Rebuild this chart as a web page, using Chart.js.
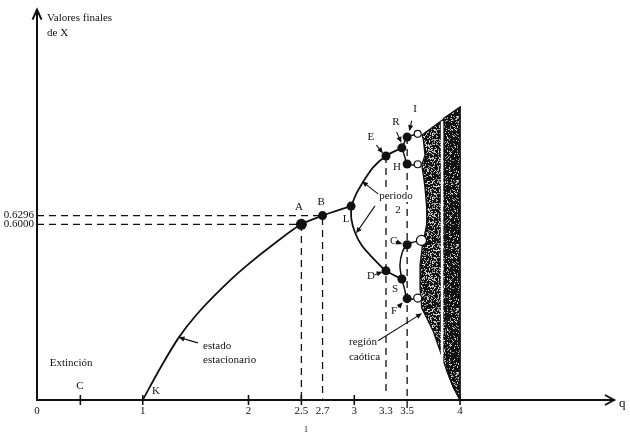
<!DOCTYPE html>
<html><head><meta charset="utf-8">
<script src="https://cdn.jsdelivr.net/npm/chart.js@4.4.1/dist/chart.umd.min.js"></script>
<style>html,body{margin:0;padding:0;background:#fff;}canvas{display:block;}</style>
</head><body>
<canvas id="c" width="630" height="435"></canvas>
<script>
// ---------- data ----------
const qTickValues = [0, 1, 2, 2.5, 2.7, 3, 3.3, 3.5, 4];
const qTickLabels = ['0', '1', '2', '2.5', '2.7', '3', '3.3', '3.5', '4'];
const xTickValues = [0.6, 0.6296];
const xTickLabels = ['0.6000', '0.6296'];

// steady state branch K -> A -> B -> L
const steadyQ = [1, 1.17, 1.34, 1.51, 1.83, 1.98, 2.23, 2.5, 2.7, 2.97];
const steadyX = [0, 0.112, 0.213, 0.292, 0.41, 0.458, 0.53, 0.6, 0.6296, 0.662];

// period 2 branches
const upper2Q = [2.97, 3.023, 3.086, 3.18, 3.3, 3.45];
const upper2X = [0.662, 0.707, 0.746, 0.795, 0.833, 0.861];
const lower2Q = [2.97, 2.973, 3.007, 3.07, 3.149, 3.227, 3.3, 3.45];
const lower2X = [0.662, 0.617, 0.572, 0.528, 0.495, 0.466, 0.441, 0.413];

// period 4 branches
const p4aQ = [3.45, 3.48, 3.5, 3.56, 3.6];
const p4aX = [0.861, 0.884, 0.898, 0.905, 0.909];
const p4bQ = [3.45, 3.478, 3.5, 3.56, 3.6];
const p4bX = [0.861, 0.83, 0.806, 0.802, 0.805];
const p4cQ = [3.45, 3.432, 3.455, 3.5, 3.57, 3.63];
const p4cX = [0.413, 0.46, 0.505, 0.53, 0.54, 0.545];
const p4dQ = [3.45, 3.478, 3.5, 3.56, 3.6];
const p4dX = [0.413, 0.375, 0.346, 0.345, 0.348];

// small period-8 loops
const loopQ = [3.6, 3.6, 3.635, 3.6];
const loopX = [0.909, 0.805, 0.545, 0.348];

// chaotic region outline
const chaosQ = [3.64, 4.0, 4.0, 3.934, 3.874, 3.811, 3.745, 3.685, 3.638, 3.622, 3.622, 3.645, 3.685, 3.685, 3.669, 3.653, 3.638, 3.669, 3.653, 3.64];
const chaosX = [0.905, 1.0, 0, 0.045, 0.101, 0.168, 0.236, 0.28, 0.314, 0.381, 0.461, 0.53, 0.6, 0.657, 0.724, 0.769, 0.802, 0.836, 0.89, 0.905];
// darker right-hand band of the chaotic region (right of the periodic window)
const chaosRightQ = [3.845, 4.0, 4.0, 3.934, 3.874, 3.845];
const chaosRightX = [0.962, 1.0, 0, 0.045, 0.101, 0.962];
// periodic window inside chaos
const windowQ = [3.83, 3.83];
const windowX = [0.952, 0.13];

// labelled points
const pointNames = ['A', 'B', 'L', 'E', 'R', 'I', 'H', 'D', 'S', 'G', 'F'];
const pointQ = [2.5, 2.7, 2.97, 3.3, 3.45, 3.5, 3.5, 3.3, 3.45, 3.5, 3.5];
const pointX = [0.6, 0.6296, 0.662, 0.833, 0.861, 0.898, 0.806, 0.441, 0.413, 0.53, 0.346];

// dashed guide lines
const guideA = {q: [0, 2.5, 2.5], x: [0.6, 0.6, 0]};
const guideB = {q: [0, 2.7, 2.7], x: [0.6296, 0.6296, 0.005]};
const guideE = {q: [3.3, 3.3], x: [0.833, 0.03]};
const guideI = {q: [3.5, 3.5], x: [0.898, -0.035]};

const extinctionPointQ = 0.41; // C

// ---------- drawing ----------
const black = '#111';
const serif = "'Liberation Serif', 'DejaVu Serif', serif";
const xy = (qs, xs) => qs.map((q, i) => ({x: q, y: xs[i]}));

function makePattern(lightShare, seed) {
  const N = 64;
  const c = document.createElement('canvas');
  c.width = N; c.height = N;
  const g = c.getContext('2d');
  g.fillStyle = '#121212'; g.fillRect(0, 0, N, N);
  const hash = (i, j) => {
    const v = Math.sin(i * 12.9898 + j * 78.233 + seed) * 43758.5453;
    return v - Math.floor(v);
  };
  for (let i = 0; i < N; i++) {
    for (let j = 0; j < N; j++) {
      const h = hash(i, j);
      if (h < lightShare) {
        const shade = 130 + Math.floor(hash(j + 7, i + 3) * 100);
        g.fillStyle = 'rgb(' + shade + ',' + shade + ',' + shade + ')';
        g.fillRect(i, j, 1, 1);
      }
    }
  }
  return g.createPattern(c, 'repeat');
}

const labels = [
  {t: 'A', q: 2.477, v: 0.660}, {t: 'B', q: 2.686, v: 0.677}, {t: 'L', q: 2.922, v: 0.616},
  {t: 'E', q: 3.158, v: 0.896}, {t: 'R', q: 3.395, v: 0.949}, {t: 'I', q: 3.574, v: 0.993},
  {t: 'H', q: 3.404, v: 0.795}, {t: 'D', q: 3.158, v: 0.424}, {t: 'S', q: 3.385, v: 0.377},
  {t: 'G', q: 3.376, v: 0.542}, {t: 'F', q: 3.376, v: 0.303},
  {t: 'periodo', q: 3.395, v: 0.697, bg: true}, {t: '2', q: 3.414, v: 0.650, bg: true},
  {t: 'C', q: 0.407, v: 0.047}, {t: 'K', q: 1.125, v: 0.030},
  {t: 'Extinción', q: 0.322, v: 0.125},
  {t: 'estado', q: 1.570, v: 0.185, a: 'left'}, {t: 'estacionario', q: 1.570, v: 0.135, a: 'left'},
  {t: 'región', q: 2.950, v: 0.199, a: 'left'}, {t: 'caótica', q: 2.950, v: 0.145, a: 'left'},
  {t: 'Valores finales', q: 0.095, v: 1.303, a: 'left'}, {t: 'de X', q: 0.095, v: 1.253, a: 'left'},
  {t: 'q', q: 5.535, v: -0.013, s: 13}, {t: '1', q: 2.544, v: -0.101, s: 8}
];
const arrows = [
  [3.210, 0.870, 3.272, 0.842], [3.401, 0.915, 3.445, 0.878], [3.543, 0.954, 3.522, 0.918],
  [3.196, 0.428, 3.268, 0.438], [3.414, 0.538, 3.455, 0.533], [3.414, 0.316, 3.458, 0.334],
  [3.225, 0.704, 3.073, 0.747], [3.196, 0.663, 3.017, 0.569],
  [1.522, 0.195, 1.338, 0.214], [3.225, 0.202, 3.641, 0.296]
];
const tickMarks = [extinctionPointQ, 1, 2, 2.5, 3, 4];

const annot = {
  id: 'annot',
  afterDatasetsDraw(chart) {
    const {ctx, scales: {x, y}, chartArea: ca} = chart;
    ctx.save();
    ctx.strokeStyle = black; ctx.fillStyle = black;
    // tick marks on q axis
    ctx.lineWidth = 1.6;
    tickMarks.forEach(q => {
      const px = x.getPixelForValue(q), py = y.getPixelForValue(0);
      ctx.beginPath(); ctx.moveTo(px, py - 5); ctx.lineTo(px, py + 5); ctx.stroke();
    });
    // axis arrowheads
    ctx.lineWidth = 2;
    const ox = x.getPixelForValue(0), oy = y.getPixelForValue(0);
    ctx.beginPath();
    ctx.moveTo(ox - 4.5, ca.top + 10); ctx.lineTo(ox, ca.top); ctx.lineTo(ox + 4.5, ca.top + 10);
    ctx.stroke();
    ctx.beginPath();
    ctx.moveTo(ca.right - 9, oy - 5); ctx.lineTo(ca.right, oy); ctx.lineTo(ca.right - 9, oy + 5);
    ctx.stroke();
    // arrows
    ctx.lineWidth = 1.1;
    arrows.forEach(([q1, v1, q2, v2]) => {
      const x1 = x.getPixelForValue(q1), y1 = y.getPixelForValue(v1);
      const x2 = x.getPixelForValue(q2), y2 = y.getPixelForValue(v2);
      const ang = Math.atan2(y2 - y1, x2 - x1);
      ctx.beginPath(); ctx.moveTo(x1, y1); ctx.lineTo(x2 - 3 * Math.cos(ang), y2 - 3 * Math.sin(ang)); ctx.stroke();
      ctx.beginPath();
      ctx.moveTo(x2, y2);
      ctx.lineTo(x2 - 6 * Math.cos(ang) + 2.6 * Math.sin(ang), y2 - 6 * Math.sin(ang) - 2.6 * Math.cos(ang));
      ctx.lineTo(x2 - 6 * Math.cos(ang) - 2.6 * Math.sin(ang), y2 - 6 * Math.sin(ang) + 2.6 * Math.cos(ang));
      ctx.closePath(); ctx.fill();
    });
    // texts
    ctx.textBaseline = 'middle';
    labels.forEach(l => {
      ctx.font = (l.s || 11) + 'px ' + serif;
      ctx.textAlign = l.a || 'center';
      const px = x.getPixelForValue(l.q), py = y.getPixelForValue(l.v);
      if (l.bg) {
        const w = ctx.measureText(l.t).width;
        ctx.fillStyle = '#fff';
        ctx.fillRect(px - w / 2 - 1, py - 6, w + 2, 12);
        ctx.fillStyle = black;
      }
      ctx.fillText(l.t, px, py);
    });
    ctx.restore();
  }
};

const lineDs = (qs, xs, extra) => Object.assign({
  data: xy(qs, xs), borderColor: black, borderWidth: 1.8, pointRadius: 0,
  fill: false, tension: 0.4, order: 5
}, extra || {});
const dashDs = (g, extra) => Object.assign({
  data: xy(g.q, g.x), borderColor: black, borderWidth: 1.3, borderDash: [7, 5],
  pointRadius: 0, fill: false, tension: 0, order: 8
}, extra || {});

new Chart(document.getElementById('c').getContext('2d'), {
  type: 'line',
  data: {
    datasets: [
      {data: xy(chaosQ, chaosX), borderColor: black, borderWidth: 1.3, backgroundColor: makePattern(0.3, 1.3),
       fill: 'shape', pointRadius: 0, tension: 0, order: 11},
      {data: xy(chaosRightQ, chaosRightX), borderColor: black, borderWidth: 1.2, backgroundColor: makePattern(0.2, 4.7),
       fill: 'shape', pointRadius: 0, tension: 0, order: 10},
      {data: xy(windowQ, windowX), borderColor: '#fff', borderWidth: 2.5, pointRadius: 0, fill: false, order: 9},
      dashDs(guideA), dashDs(guideB), dashDs(guideE), dashDs(guideI, {clip: false}),
      lineDs(steadyQ, steadyX, {cubicInterpolationMode: 'monotone'}),
      lineDs(upper2Q, upper2X, {cubicInterpolationMode: 'monotone'}),
      lineDs(lower2Q, lower2X, {tension: 0.35}),
      lineDs(p4aQ, p4aX, {borderWidth: 1.5}), lineDs(p4bQ, p4bX, {borderWidth: 1.5}),
      lineDs(p4cQ, p4cX, {borderWidth: 1.5}), lineDs(p4dQ, p4dX, {borderWidth: 1.5}),
      {data: xy(loopQ, loopX), showLine: false, pointRadius: [3.5, 3.5, 5, 4], pointBackgroundColor: '#fff',
       pointBorderColor: black, pointBorderWidth: 1.2, order: 2},
      {data: xy(pointQ, pointX), showLine: false, pointRadius: pointNames.map(n => n === 'A' ? 5.5 : 4.5),
       pointBackgroundColor: black, pointBorderColor: black, pointBorderWidth: 0, order: 1}
    ]
  },
  options: {
    responsive: false, animation: false,
    layout: {padding: {top: 4, right: 16, left: 0, bottom: 0}},
    plugins: {legend: {display: false}, tooltip: {enabled: false}},
    scales: {
      x: {
        type: 'linear', min: 0, max: 5.456,
        afterBuildTicks: s => { s.ticks = qTickValues.map(v => ({value: v})); },
        afterFit: s => { s.height = 35; },
        ticks: {autoSkip: false, maxRotation: 0, padding: 5, color: black,
                font: {family: serif, size: 11}, callback: (v, i) => qTickLabels[i]},
        grid: {display: false, drawTicks: false},
        border: {display: true, color: black, width: 2}
      },
      y: {
        type: 'linear', min: 0, max: 1.333,
        afterBuildTicks: s => { s.ticks = xTickValues.map(v => ({value: v})); },
        afterFit: s => { s.width = 37; },
        ticks: {autoSkip: false, padding: 3, color: black,
                font: {family: serif, size: 11}, callback: (v, i) => xTickLabels[i]},
        grid: {display: false, drawTicks: false},
        border: {display: true, color: black, width: 2}
      }
    }
  },
  plugins: [annot]
});
</script>
</body></html>
